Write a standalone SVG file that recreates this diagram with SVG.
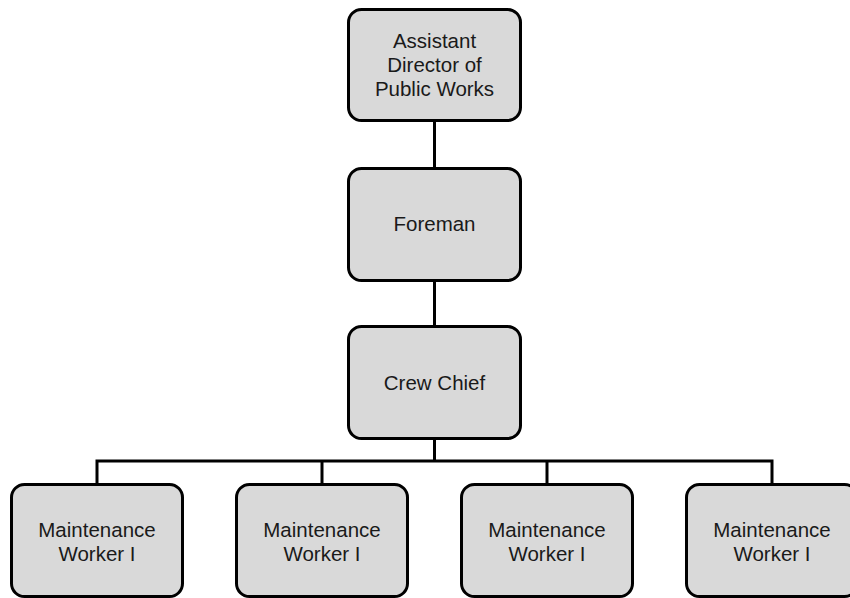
<svg xmlns="http://www.w3.org/2000/svg" width="850" height="598" viewBox="0 0 850 598">
<style>
.box{fill:#d9d9d9;stroke:#000;stroke-width:3}
.lbl{font-family:"Liberation Sans",Arial,sans-serif;font-size:20.5px;fill:#1a1a1a;text-anchor:middle}
.conn{fill:none;stroke:#000;stroke-width:3}
</style>
<rect width="850" height="598" fill="#fff"/>
<g id="connectors">
<line class="conn" x1="434.5" y1="121" x2="434.5" y2="169"/>
<line class="conn" x1="434.5" y1="280" x2="434.5" y2="327"/>
<line class="conn" x1="434.5" y1="438" x2="434.5" y2="461"/>
<polyline class="conn" points="97,485 97,461 772,461 772,485"/>
<line class="conn" x1="322" y1="461" x2="322" y2="485"/>
<line class="conn" x1="547" y1="461" x2="547" y2="485"/>
</g>
<g id="n_assistant">
<rect class="box" x="348.5" y="9.5" width="172" height="111" rx="13"/>
<text class="lbl" x="434.5" y="48">Assistant</text>
<text class="lbl" x="434.5" y="72">Director of</text>
<text class="lbl" x="434.5" y="96">Public Works</text>
</g>
<g id="n_foreman">
<rect class="box" x="348.5" y="168.5" width="172" height="112" rx="13"/>
<text class="lbl" x="434.5" y="231">Foreman</text>
</g>
<g id="n_crewchief">
<rect class="box" x="348.5" y="326.5" width="172" height="112" rx="13"/>
<text class="lbl" x="434.5" y="390">Crew Chief</text>
</g>
<g id="n_mw1">
<rect class="box" x="11.5" y="484.5" width="171" height="112" rx="13"/>
<text class="lbl" x="97" y="537">Maintenance</text>
<text class="lbl" x="97" y="561">Worker I</text>
</g>
<g id="n_mw2">
<rect class="box" x="236.5" y="484.5" width="171" height="112" rx="13"/>
<text class="lbl" x="322" y="537">Maintenance</text>
<text class="lbl" x="322" y="561">Worker I</text>
</g>
<g id="n_mw3">
<rect class="box" x="461.5" y="484.5" width="171" height="112" rx="13"/>
<text class="lbl" x="547" y="537">Maintenance</text>
<text class="lbl" x="547" y="561">Worker I</text>
</g>
<g id="n_mw4">
<rect class="box" x="686.5" y="484.5" width="171" height="112" rx="13"/>
<text class="lbl" x="772" y="537">Maintenance</text>
<text class="lbl" x="772" y="561">Worker I</text>
</g>
</svg>
